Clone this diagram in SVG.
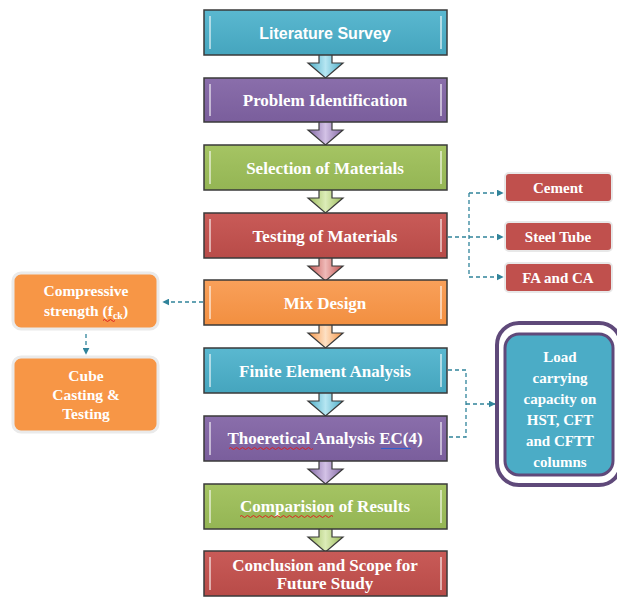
<svg xmlns="http://www.w3.org/2000/svg" width="617" height="597" viewBox="0 0 617 597">
<defs>
<style>
.mb{stroke:#3a3a3a;stroke-width:1.5}
.hl{fill:none;stroke:#ffffff;stroke-opacity:0.55;stroke-width:2}
.t{font-family:"Liberation Serif","Times New Roman",serif;font-weight:bold;font-size:15px;fill:#ffffff;text-anchor:middle}
.tm{font-size:17px}
.tl{font-size:15.5px}
.ts{font-family:"Liberation Sans",Arial,sans-serif;font-weight:bold;font-size:16px;fill:#ffffff;text-anchor:middle}
.ar{stroke:#3a3a3a;stroke-width:1.2}
.dash{fill:none;stroke:#31849b;stroke-width:1.3;stroke-dasharray:4,3}
.sq{fill:none;stroke:#e02020;stroke-width:1}
.rb{fill:#c0504d;stroke:#e8e8e8;stroke-width:2}
.ob{fill:#f79646;stroke:#eaeaea;stroke-width:3}
</style>
<marker id="ah" viewBox="0 0 10 10" refX="9" refY="5" markerWidth="7" markerHeight="7" orient="auto" markerUnits="userSpaceOnUse">
<path d="M0,0 L10,5 L0,10 z" fill="#31849b"/>
</marker>
<linearGradient id="gT" x1="0" y1="0" x2="0" y2="1"><stop offset="0" stop-color="#5ab8d0"/><stop offset="1" stop-color="#45a5be"/></linearGradient>
<linearGradient id="gP" x1="0" y1="0" x2="0" y2="1"><stop offset="0" stop-color="#8a6eab"/><stop offset="1" stop-color="#7a5e9c"/></linearGradient>
<linearGradient id="gG" x1="0" y1="0" x2="0" y2="1"><stop offset="0" stop-color="#a5c463"/><stop offset="1" stop-color="#94b554"/></linearGradient>
<linearGradient id="gR" x1="0" y1="0" x2="0" y2="1"><stop offset="0" stop-color="#c95b58"/><stop offset="1" stop-color="#b84b48"/></linearGradient>
<linearGradient id="gO" x1="0" y1="0" x2="0" y2="1"><stop offset="0" stop-color="#f9a05a"/><stop offset="1" stop-color="#f28f40"/></linearGradient>
<linearGradient id="aT" x1="0" y1="0" x2="1" y2="0"><stop offset="0" stop-color="#4bacc6"/><stop offset="0.5" stop-color="#b6e6f2"/><stop offset="1" stop-color="#4bacc6"/></linearGradient>
<linearGradient id="aP" x1="0" y1="0" x2="1" y2="0"><stop offset="0" stop-color="#8064a2"/><stop offset="0.5" stop-color="#d3c2e6"/><stop offset="1" stop-color="#8064a2"/></linearGradient>
<linearGradient id="aG" x1="0" y1="0" x2="1" y2="0"><stop offset="0" stop-color="#9bbb59"/><stop offset="0.5" stop-color="#dcecb8"/><stop offset="1" stop-color="#9bbb59"/></linearGradient>
<linearGradient id="aR" x1="0" y1="0" x2="1" y2="0"><stop offset="0" stop-color="#c0504d"/><stop offset="0.5" stop-color="#efbab8"/><stop offset="1" stop-color="#c0504d"/></linearGradient>
<linearGradient id="aO" x1="0" y1="0" x2="1" y2="0"><stop offset="0" stop-color="#f79646"/><stop offset="0.5" stop-color="#fde0c4"/><stop offset="1" stop-color="#f79646"/></linearGradient>
<path id="arr" d="M-6.5,0 L6.5,0 L6.5,12 L17.5,12 L0,27 L-17.5,12 L-6.5,12 Z"/>
</defs>
<rect width="617" height="597" fill="#ffffff"/>

<g id="connectors">
<use href="#arr" x="325.5" y="51" fill="url(#aT)" class="ar"/>
<use href="#arr" x="325.5" y="118" fill="url(#aP)" class="ar"/>
<use href="#arr" x="325.5" y="186" fill="url(#aG)" class="ar"/>
<use href="#arr" x="325.5" y="254" fill="url(#aR)" class="ar"/>
<use href="#arr" x="325.5" y="321" fill="url(#aO)" class="ar"/>
<use href="#arr" x="325.5" y="389" fill="url(#aT)" class="ar"/>
<use href="#arr" x="325.5" y="457" fill="url(#aP)" class="ar"/>
<use href="#arr" x="325.5" y="525" fill="url(#aG)" class="ar"/>
<path class="dash" d="M448,237 H469"/>
<path class="dash" d="M469,193 V277"/>
<path class="dash" d="M469,193 H503" marker-end="url(#ah)"/>
<path class="dash" d="M469,237 H503" marker-end="url(#ah)"/>
<path class="dash" d="M469,277 H503" marker-end="url(#ah)"/>
<path class="dash" d="M203,302 H163" marker-end="url(#ah)"/>
<path class="dash" d="M86,334 V354" marker-end="url(#ah)"/>
<path class="dash" d="M448,370 H466 V437 H448"/>
<path class="dash" d="M466,404 H495" marker-end="url(#ah)"/>
</g>

<g id="n1"><rect x="204" y="10" width="243" height="45" fill="url(#gT)" class="mb"/><path class="hl" d="M210,16 V49 M441,16 V49"/><text x="325" y="38.5" class="ts">Literature Survey</text></g>
<g id="n2"><rect x="204" y="78" width="243" height="44" fill="url(#gP)" class="mb"/><path class="hl" d="M210,84 V116 M441,84 V116"/><text x="325" y="106" class="t tm">Problem Identification</text></g>
<g id="n3"><rect x="204" y="145" width="243" height="45" fill="url(#gG)" class="mb"/><path class="hl" d="M210,151 V184 M441,151 V184"/><text x="325" y="174" class="t tm">Selection of Materials</text></g>
<g id="n4"><rect x="204" y="213" width="243" height="45" fill="url(#gR)" class="mb"/><path class="hl" d="M210,219 V252 M441,219 V252"/><text x="325" y="242" class="t tm">Testing of Materials</text></g>
<g id="n5"><rect x="204" y="280" width="243" height="45" fill="url(#gO)" class="mb"/><path class="hl" d="M210,286 V319 M441,286 V319"/><text x="325" y="309" class="t tm">Mix Design</text></g>
<g id="n6"><rect x="204" y="348" width="243" height="45" fill="url(#gT)" class="mb"/><path class="hl" d="M210,354 V387 M441,354 V387"/><text x="325" y="377" class="t tm">Finite Element Analysis</text></g>
<g id="n7"><rect x="204" y="416" width="243" height="45" fill="url(#gP)" class="mb"/><path class="hl" d="M210,422 V455 M441,422 V455"/><text x="325" y="444" class="t tm">Thoeretical Analysis EC(4)</text>
<path class="sq" d="M229,448.5 q1.5,-2 3,0 t3,0 t3,0 t3,0 t3,0 t3,0 t3,0 t3,0 t3,0 t3,0 t3,0 t3,0 t3,0 t3,0 t3,0 t3,0 t3,0 t3,0 t3,0 t3,0 t3,0 t3,0 t3,0 t3,0 t3,0 t3,0 t3,0 t3,0"/>
<path d="M381,448.5 H411" stroke="#3060d0" stroke-width="1" fill="none"/></g>
<g id="n8"><rect x="204" y="484" width="243" height="45" fill="url(#gG)" class="mb"/><path class="hl" d="M210,490 V523 M441,490 V523"/><text x="325" y="512" class="t tm">Comparision of Results</text>
<path class="sq" d="M240,516.5 q1.5,-2 3,0 t3,0 t3,0 t3,0 t3,0 t3,0 t3,0 t3,0 t3,0 t3,0 t3,0 t3,0 t3,0 t3,0 t3,0 t3,0 t3,0 t3,0 t3,0 t3,0 t3,0 t3,0 t3,0 t3,0 t3,0 t3,0 t3,0 t3,0 t3,0 t3,0 t3,0"/></g>
<g id="n9"><rect x="204" y="551" width="243" height="45" fill="url(#gR)" class="mb"/><path class="hl" d="M210,557 V590 M441,557 V590"/><text x="325" y="570.5" class="t tm">Conclusion and Scope for</text><text x="325" y="589" class="t tm">Future Study</text></g>

<g id="cement"><rect x="505" y="173" width="107" height="29" rx="4" class="rb"/><text x="558" y="192.5" class="t">Cement</text></g>
<g id="steel"><rect x="505" y="222" width="107" height="29" rx="4" class="rb"/><text x="558" y="241.5" class="t">Steel Tube</text></g>
<g id="fa"><rect x="505" y="263" width="107" height="29" rx="4" class="rb"/><text x="558" y="282.5" class="t">FA and CA</text></g>

<g id="comp"><rect x="13" y="273" width="145" height="56" rx="8" class="ob"/><text x="86" y="296" class="t tl">Compressive</text><text x="86" y="316" class="t tl">strength (f<tspan font-size="10" dy="3">ck</tspan><tspan dy="-3">)</tspan></text>
<path class="sq" d="M103,320.5 q1.5,-2 3,0 t3,0 t3,0 t3,0"/></g>
<g id="cube"><rect x="13" y="357" width="145" height="75" rx="8" class="ob"/><text x="86" y="381" class="t tl">Cube</text><text x="86" y="400" class="t tl">Casting &amp;</text><text x="86" y="419" class="t tl">Testing</text></g>

<g id="load"><rect x="497" y="323" width="124" height="162" rx="22" fill="#ffffff" stroke="#5f497a" stroke-width="4"/><rect x="505" y="334" width="108" height="141" rx="14" fill="#4bacc6" stroke="#5f497a" stroke-width="3"/>
<text x="560" y="362" class="t">Load</text><text x="560" y="383" class="t">carrying</text><text x="560" y="404" class="t">capacity on</text><text x="560" y="425" class="t">HST, CFT</text><text x="560" y="446" class="t">and CFTT</text><text x="560" y="467" class="t">columns</text></g>
</svg>
